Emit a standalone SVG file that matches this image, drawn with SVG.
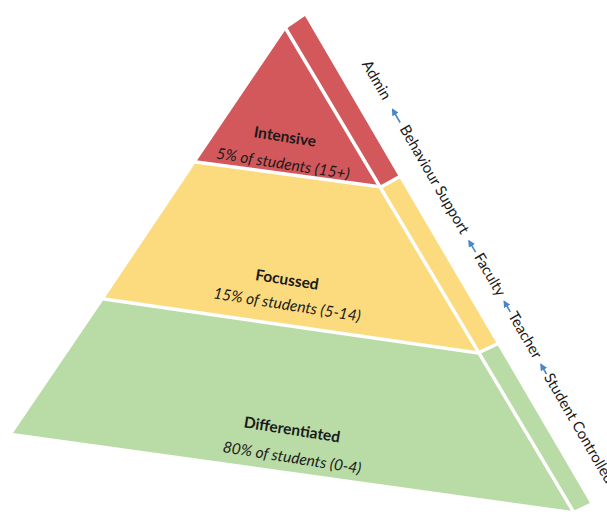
<svg xmlns="http://www.w3.org/2000/svg" width="607" height="516" viewBox="0 0 607 516">
<style>
.red{fill:#D2585C}
.yel{fill:#FCDA7E}
.grn{fill:#B9DBA6}
.sep{stroke:#FFFFFF;stroke-width:3.5;fill:none;stroke-linecap:round}
.title{font-family:Lato,"Liberation Sans",sans-serif;font-weight:bold;font-size:15.5px;fill:#1A1A1A;text-anchor:middle}
.sub{font-family:Lato,"Liberation Sans",sans-serif;font-style:italic;font-size:15.5px;fill:#1A1A1A;text-anchor:middle}
.lbl{font-family:Lato,"Liberation Sans",sans-serif;font-size:15px;fill:#1A1A1A}
.arr{stroke:#4A86CC;stroke-width:1.6;fill:none;marker-end:url(#ah)}
</style>
<defs>
<marker id="ah" viewBox="0 0 10 10" refX="8" refY="5" markerWidth="4.5" markerHeight="4.5" orient="auto" markerUnits="strokeWidth">
<path d="M0,0 L10,5 L0,10 z" fill="#4A86CC"/>
</marker>
</defs>
<rect width="607" height="516" fill="#FFFFFF"/>

<g id="intensive">
<polygon class="red" points="286,29 196,162 381,187"/>
<polygon class="red" points="286,29 305,16 399,177 381,187"/>
<text class="title" transform="rotate(9 285 137)" x="285" y="142">Intensive</text>
<text class="sub" transform="rotate(9 283 164)" x="283" y="169">5% of students (15+)</text>
</g>

<g id="focussed">
<polygon class="yel" points="196,162 381,187 478,353 104,299"/>
<polygon class="yel" points="381,187 399,177 497,344 478,353"/>
<text class="title" transform="rotate(9 287 280)" x="287" y="285">Focussed</text>
<text class="sub" transform="rotate(9 287 305)" x="287" y="310">15% of students (5-14)</text>
</g>

<g id="differentiated">
<polygon class="grn" points="104,299 478,353 573,511 13,433"/>
<polygon class="grn" points="478,353 497,344 590,503 573,511"/>
<text class="title" transform="rotate(9 292 430)" x="292" y="435">Differentiated</text>
<text class="sub" transform="rotate(9 292 458)" x="292" y="463">80% of students (0-4)</text>
</g>

<g id="separators">
<path class="sep" d="M286,29 L573,511"/>
<path class="sep" d="M196,162 L381,187 L399,177"/>
<path class="sep" d="M104,299 L478,353 L497,344"/>
</g>

<g id="levels" transform="translate(369,77) rotate(59.8)">
<text class="lbl" x="-15" y="0">Admin</text>
<text class="lbl" x="60" y="0">Behaviour Support</text>
<text class="lbl" x="208" y="0">Faculty</text>
<text class="lbl" x="276" y="0">Teacher</text>
<text class="lbl" x="347" y="0">Student Controlled</text>
</g>

<g id="connectors" transform="translate(369,77) rotate(59.8)">
<path class="arr" d="M55,-4 L40,-4"/>
<path class="arr" d="M205,-4 L192,-4"/>
<path class="arr" d="M274,-4 L262,-4"/>
<path class="arr" d="M346,-4 L335,-4"/>
</g>
</svg>
